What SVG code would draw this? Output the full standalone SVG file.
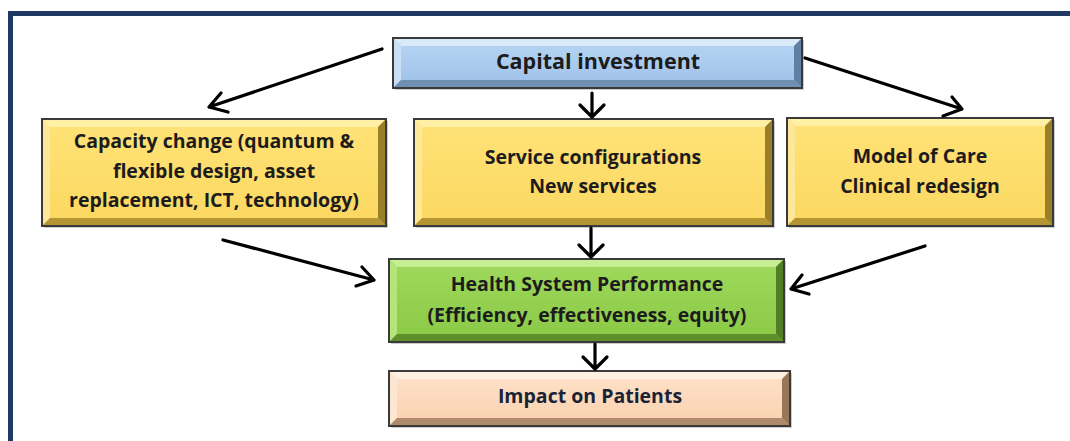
<svg xmlns="http://www.w3.org/2000/svg" width="1070" height="441" viewBox="0 0 1070 441">
<defs>
<style>
.lbl{font-family:"Open Sans",Lato,"Liberation Sans",sans-serif;font-weight:700;font-size:19.5px;fill:#1c1c1c;text-anchor:middle}
.big{font-size:21.5px}
.out{stroke:#3a3a3a;stroke-width:2}
.arr{fill:none;stroke:#000;stroke-width:3.2;stroke-linecap:round;stroke-linejoin:round}
.shadow{fill:#9a9a9a;opacity:0.5}
</style>
<linearGradient id="gBlue" x1="0" y1="0" x2="0" y2="1"><stop offset="0" stop-color="#b4d3f3"/><stop offset="1" stop-color="#a2c4ea"/></linearGradient>
<linearGradient id="gYel" x1="0" y1="0" x2="0" y2="1"><stop offset="0" stop-color="#ffe276"/><stop offset="1" stop-color="#fbd862"/></linearGradient>
<linearGradient id="gGrn" x1="0" y1="0" x2="0" y2="1"><stop offset="0" stop-color="#9dd85a"/><stop offset="1" stop-color="#8cca48"/></linearGradient>
<linearGradient id="gPch" x1="0" y1="0" x2="0" y2="1"><stop offset="0" stop-color="#fde0c6"/><stop offset="1" stop-color="#fbd3b2"/></linearGradient>
</defs>
<rect width="1070" height="441" fill="#ffffff"/>
<path d="M10.5 441 V13.5 H1070" fill="none" stroke="#1f3864" stroke-width="5"/>

<g id="capital">
<rect class="shadow" x="395" y="40" width="409" height="50"/>
<rect class="out" x="393" y="38" width="409" height="50" fill="#a9cbee"/>
<polygon points="394,39 801,39 794,46 401,46" fill="#d9ebfb"/>
<polygon points="394,39 401,46 401,80 394,87" fill="#c9e0f7"/>
<polygon points="394,87 401,80 794,80 801,87" fill="#6f8fb3"/>
<polygon points="801,39 801,87 794,80 794,46" fill="#5f7fa3"/>
<rect x="401" y="46" width="393" height="34" fill="url(#gBlue)"/>
<text class="lbl big" x="598" y="69">Capital investment</text>
</g>

<g id="capacity">
<rect class="shadow" x="44" y="121" width="344" height="107"/>
<rect class="out" x="42" y="119" width="344" height="107" fill="#fddc6a"/>
<polygon points="43,120 385,120 378,127 50,127" fill="#fff0a6"/>
<polygon points="43,120 50,127 50,218 43,225" fill="#fde89a"/>
<polygon points="43,225 50,218 378,218 385,225" fill="#b39533"/>
<polygon points="385,120 385,225 378,218 378,127" fill="#9a7f2a"/>
<rect x="50" y="127" width="328" height="91" fill="url(#gYel)"/>
<text class="lbl" x="214" y="148">Capacity change (quantum &amp;</text>
<text class="lbl" x="214" y="178">flexible design, asset</text>
<text class="lbl" x="214" y="207">replacement, ICT, technology)</text>
</g>

<g id="service">
<rect class="shadow" x="416" y="121" width="359" height="107"/>
<rect class="out" x="414" y="119" width="359" height="107" fill="#fddc6a"/>
<polygon points="415,120 772,120 765,127 422,127" fill="#fff0a6"/>
<polygon points="415,120 422,127 422,218 415,225" fill="#fde89a"/>
<polygon points="415,225 422,218 765,218 772,225" fill="#b39533"/>
<polygon points="772,120 772,225 765,218 765,127" fill="#9a7f2a"/>
<rect x="422" y="127" width="343" height="91" fill="url(#gYel)"/>
<text class="lbl" x="593" y="164">Service configurations</text>
<text class="lbl" x="593" y="193">New services</text>
</g>

<g id="model">
<rect class="shadow" x="789" y="120" width="266" height="108"/>
<rect class="out" x="787" y="118" width="266" height="108" fill="#fddc6a"/>
<polygon points="788,119 1052,119 1045,126 795,126" fill="#fff0a6"/>
<polygon points="788,119 795,126 795,218 788,225" fill="#fde89a"/>
<polygon points="788,225 795,218 1045,218 1052,225" fill="#b39533"/>
<polygon points="1052,119 1052,225 1045,218 1045,126" fill="#9a7f2a"/>
<rect x="795" y="126" width="250" height="92" fill="url(#gYel)"/>
<text class="lbl" x="920" y="163">Model of Care</text>
<text class="lbl" x="920" y="193">Clinical redesign</text>
</g>

<g id="health">
<rect class="shadow" x="391" y="261" width="395" height="83"/>
<rect class="out" x="389" y="259" width="395" height="83" fill="#92d050"/>
<polygon points="390,260 783,260 776,267 397,267" fill="#c6ee92"/>
<polygon points="390,260 397,267 397,334 390,341" fill="#b4e47a"/>
<polygon points="390,341 397,334 776,334 783,341" fill="#5e8f2c"/>
<polygon points="783,260 783,341 776,334 776,267" fill="#517d24"/>
<rect x="397" y="267" width="379" height="67" fill="url(#gGrn)"/>
<text class="lbl" x="587" y="291">Health System Performance</text>
<text class="lbl" x="587" y="322">(Efficiency, effectiveness, equity)</text>
</g>

<g id="impact">
<rect class="shadow" x="391" y="373" width="401" height="55"/>
<rect class="out" x="389" y="371" width="401" height="55" fill="#fcd5b4"/>
<polygon points="390,372 789,372 782,379 397,379" fill="#fff0e2"/>
<polygon points="390,372 397,379 397,418 390,425" fill="#fde6d2"/>
<polygon points="390,425 397,418 782,418 789,425" fill="#ad8a6c"/>
<polygon points="789,372 789,425 782,418 782,379" fill="#987659"/>
<rect x="397" y="379" width="385" height="39" fill="url(#gPch)"/>
<text class="lbl" x="590" y="403" style="fill:#1a2236">Impact on Patients</text>
</g>

<g id="connectors">
<path class="arr" d="M382 49 L209 107 M221 93 L209 107 L228 112"/>
<path class="arr" d="M592 93 L592 117 M580 105 L592 117 L604 105"/>
<path class="arr" d="M805 58 L962 109 M952 97 L962 109 L943 116"/>
<path class="arr" d="M591 228 L591 257 M579 245 L591 257 L603 245"/>
<path class="arr" d="M223 240 L374 280 M362 267 L374 280 L356 286"/>
<path class="arr" d="M925 246 L791 289 M802 275 L791 289 L809 294"/>
<path class="arr" d="M595 344 L595 369 M583 357 L595 369 L607 357"/>
</g>
</svg>
